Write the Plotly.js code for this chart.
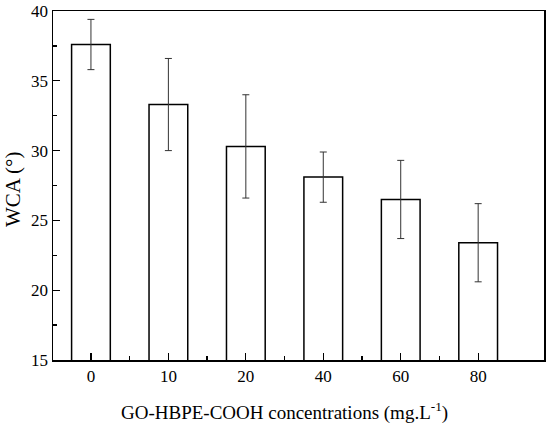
<!DOCTYPE html>
<html>
<head>
<meta charset="utf-8">
<script src="https://cdn.plot.ly/plotly-3.0.1.min.js"></script>
<style>html,body{margin:0;padding:0;background:#fff;}#chart{width:550px;height:430px;}</style>
</head>
<body>
<div id="chart"></div>
<script>
const categories = ['0', '10', '20', '40', '60', '80'];
const wca = [37.6, 33.3, 30.3, 28.1, 26.5, 23.4];
const wcaErr = [1.8, 3.3, 3.7, 1.8, 2.8, 2.8];
const xTitle = 'GO-HBPE-COOH concentrations (mg.L<sup>-1</sup>)';
const yTitle = 'WCA (°)';

const positions = categories.map((c, i) => i);

const font = {family: 'Liberation Serif, Times New Roman, serif', color: '#000'};

const trace = {
  type: 'bar',
  x: positions,
  y: wca,
  width: 0.5,
  marker: {color: '#fff', line: {color: '#000', width: 1.5}},
  error_y: {type: 'data', array: wcaErr, visible: true, color: '#333', thickness: 1, width: 3.5},
  hoverinfo: 'skip'
};

const layout = {
  width: 550, height: 430,
  margin: {l: 53, r: 6, t: 11, b: 70},
  paper_bgcolor: '#fff', plot_bgcolor: '#fff',
  showlegend: false,
  font: Object.assign({size: 17}, font),
  xaxis: {
    range: [-0.49, 5.85],
    tickmode: 'array', tickvals: positions, ticktext: categories,
    ticks: 'inside', ticklen: 7, tickwidth: 1.3, tickcolor: '#000',
    minor: {tickmode: 'array', tickvals: [0.5, 1.5, 2.5, 3.5, 4.5], ticks: 'inside', ticklen: 4, tickwidth: 1.3, tickcolor: '#000'},
    showgrid: false, zeroline: false,
    showline: true, linecolor: '#000', linewidth: 1.5, mirror: true,
    tickfont: Object.assign({size: 17}, font)
  },
  yaxis: {
    range: [15, 40],
    tickmode: 'array', tickvals: [15, 20, 25, 30, 35, 40],
    ticks: 'inside', ticklen: 7, tickwidth: 1.3, tickcolor: '#000',
    minor: {tickmode: 'array', tickvals: [17.5, 22.5, 27.5, 32.5, 37.5], ticks: 'inside', ticklen: 4, tickwidth: 1.3, tickcolor: '#000'},
    showgrid: false, zeroline: false,
    showline: true, linecolor: '#000', linewidth: 1.5, mirror: true,
    tickfont: Object.assign({size: 17}, font)
  },
  annotations: [
    {text: xTitle, xref: 'paper', yref: 'paper', x: 0.4725, y: 0, xanchor: 'center', yanchor: 'middle',
     yshift: -51, showarrow: false, font: Object.assign({size: 19}, font)},
    {text: yTitle, xref: 'paper', yref: 'paper', x: 0, y: 0.487, xanchor: 'center', yanchor: 'middle',
     xshift: -40, textangle: -90, showarrow: false, font: Object.assign({size: 21}, font)}
  ]
};

Plotly.newPlot('chart', [trace], layout, {staticPlot: true, displayModeBar: false});
</script>
</body>
</html>
